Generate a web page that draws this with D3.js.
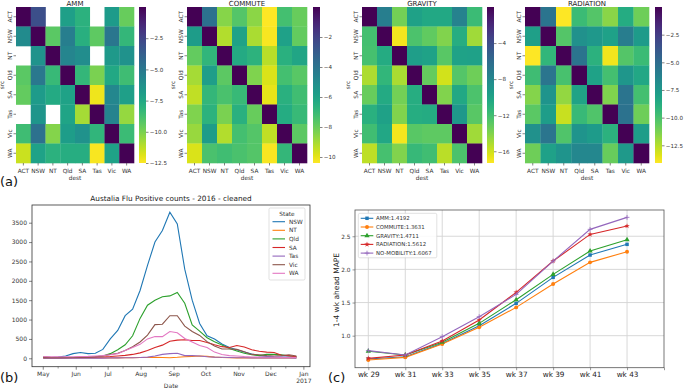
<!DOCTYPE html>
<html><head><meta charset="utf-8">
<script src="https://cdn.jsdelivr.net/npm/d3@7"></script>
<style>body{margin:0;background:#fff} text{font-family:"DejaVu Sans",sans-serif}</style>
</head><body><svg id="chart" width="685" height="390"></svg>
<script>
// ---------------- DATA ----------------
const states = ["ACT","NSW","NT","Qld","SA","Tas","Vic","WA"];

// rows = src, cols = dest (null = missing)
const ammValues = [
  [0, -3.0, null, -7.0, -8.0, null, -6.8, -9.6],
  [-6.0, 0, -9.3, -5.3, -7.9, -9.4, -4.9, -8.3],
  [null, -6.4, 0, -5.7, -6.1, null, -6.7, -6.3],
  [-9.3, -5.0, -8.4, 0, -8.3, -10.0, -7.5, -8.6],
  [-9.5, -6.8, -7.6, -7.2, 0, -12.2, -5.8, -7.0],
  [null, -6.5, null, -7.3, -10.8, 0, -5.6, -10.5],
  [-8.6, -4.6, -10.2, -6.9, -6.3, -8.2, 0, -8.5],
  [-11.5, -7.2, -8.0, -7.8, -7.8, -12.4, -7.2, 0]
];
const commuteValues = [
  [0, -3.9, -8.5, -7.6, -8.6, -10.4, -7.3, -8.0],
  [-5.7, 0, -9.2, -6.0, -9.1, -10.3, -5.9, -7.9],
  [-7.9, -6.8, 0, -6.3, -6.7, -9.3, -6.6, -6.1],
  [-9.0, -5.8, -7.8, 0, -8.4, -9.8, -7.3, -7.7],
  [-9.4, -6.9, -7.4, -7.0, 0, -10.0, -6.6, -7.2],
  [-8.4, -6.7, -8.3, -6.6, -8.0, 0, -6.4, -7.0],
  [-8.8, -5.7, -9.2, -7.3, -7.6, -9.4, 0, -7.8],
  [-9.8, -7.4, -7.2, -7.4, -7.6, -10.3, -6.9, 0]
];
const gravityValues = [
  [0, -7.3, -13.6, -9.9, -10.4, -10.4, -7.6, -11.8],
  [-12.1, 0, -17.0, -12.4, -13.1, -14.0, -10.8, -14.8],
  [-12.2, -10.6, 0, -9.6, -10.0, -12.8, -10.0, -9.8],
  [-15.2, -11.4, -15.1, 0, -13.2, -16.1, -12.7, -13.5],
  [-13.3, -10.5, -13.6, -10.8, 0, -14.0, -10.4, -12.4],
  [-11.0, -9.9, -14.0, -10.7, -10.6, 0, -9.2, -12.8],
  [-12.0, -10.3, -17.0, -12.8, -13.0, -13.0, 0, -14.8],
  [-15.6, -12.2, -14.0, -11.6, -12.0, -15.5, -12.4, 0]
];
const radiationValues = [
  [0, -5.4, -14.1, -9.6, -10.3, -11.6, -8.7, -11.0],
  [-7.9, 0, -10.3, -7.1, -7.5, -8.0, -5.9, -7.7],
  [-14.1, -9.3, 0, -5.4, -9.0, -13.8, -10.3, -9.6],
  [-9.7, -5.5, -10.0, 0, -8.1, -9.9, -7.4, -8.4],
  [-11.5, -7.3, -11.8, -8.2, 0, -11.4, -5.4, -9.9],
  [-10.5, -7.8, -12.9, -9.5, -10.2, 0, -5.3, -11.0],
  [-7.1, -5.5, -10.2, -7.3, -7.7, -9.0, 0, -7.8],
  [-11.0, -8.0, -7.3, -6.5, -6.5, -10.8, -7.6, 0]
];
const ammTicks = [-2.5, -5, -7.5, -10, -12.5];
const commuteTicks = [-2, -4, -6, -8, -10];
const gravityTicks = [-4, -8, -12, -16];
const radiationTicks = [-2.5, -5, -7.5, -10, -12.5];
const ammRange = [-12.5, 0];
const commuteRange = [-10.4, 0];
const gravityRange = [-17.3, 0];
const radiationRange = [-14.1, 0];

// (b) flu counts
const fluDates = ["2016-05-01","2016-05-08","2016-05-15","2016-05-22","2016-05-29",
  "2016-06-05","2016-06-12","2016-06-19","2016-06-26","2016-07-03","2016-07-10","2016-07-17",
  "2016-07-24","2016-07-31","2016-08-07","2016-08-14","2016-08-21","2016-08-28","2016-09-04",
  "2016-09-11","2016-09-18","2016-09-25","2016-10-02","2016-10-09","2016-10-16","2016-10-23",
  "2016-10-30","2016-11-06","2016-11-13","2016-11-20","2016-11-27","2016-12-04","2016-12-11",
  "2016-12-18","2016-12-25"];
const fluStates = ["NSW","NT","Qld","SA","Tas","Vic","WA"];
const nswCounts = [20,20,30,60,120,150,120,130,230,500,720,1100,1270,1750,2400,3000,3300,3770,3470,2300,1500,900,580,500,370,280,220,160,110,70,50,40,35,30,30];
const ntCounts  = [10,10,10,10,10,10,10,10,10,10,10,15,15,20,20,25,20,15,25,40,50,60,50,30,20,15,10,10,10,10,10,10,10,10,10];
const qldCounts = [40,25,20,20,20,25,30,40,60,120,220,350,580,1030,1370,1500,1590,1610,1700,1420,860,700,530,430,340,250,190,130,90,70,100,100,90,60,40];
const saCounts  = [10,10,10,15,15,20,25,30,35,45,60,75,100,140,200,280,340,440,470,480,460,460,410,350,300,280,330,290,220,180,160,150,80,70,40];
const tasCounts = [5,5,5,5,5,5,5,5,5,10,10,15,15,20,30,60,100,120,130,70,70,60,40,30,25,20,15,15,10,10,10,10,10,10,5];
const vicCounts = [15,15,15,15,20,25,30,40,60,100,130,200,300,420,600,870,880,1100,1100,830,690,590,430,320,240,240,230,170,100,90,70,60,70,90,60];
const waCounts  = [45,40,40,40,40,45,50,60,70,90,120,200,280,360,500,560,560,690,660,510,420,330,280,160,100,70,60,45,35,30,30,30,25,25,20];
const fluYTicks = [0,500,1000,1500,2000,2500,3000,3500];

// (c) MAPE
const weekLabels = ["wk 29","wk 31","wk 33","wk 35","wk 37","wk 39","wk 41","wk 43"];
const modelNames = ["AMM:1.4192","COMMUTE:1.3631","GRAVITY:1.4711","RADIATION:1.5612","NO-MOBILITY:1.6067"];
const ammMape       = [0.648,0.683,0.884,1.151,1.488,1.880,2.217,2.378];
const commuteMape   = [0.633,0.673,0.874,1.126,1.427,1.779,2.106,2.267];
const gravityMape   = [0.765,0.708,0.900,1.186,1.543,1.925,2.277,2.448];
const radiationMape = [0.658,0.708,0.920,1.236,1.654,2.126,2.528,2.654];
const nomobMape     = [0.775,0.708,0.985,1.287,1.623,2.126,2.604,2.785];
const mapeYTicks = [1.0,1.5,2.0,2.5];

// ---------------- DRAW ----------------
const svg = d3.select("#chart");
svg.append("rect").attr("width",685).attr("height",390).attr("fill","#fff");
const defs = svg.append("defs");
const txt = "#333";

function heatmap(title, values, range, ticks, fmt, L, R, cbX, idx){
  const top = 7, bottom = 163;
  const g = svg.append("g");
  const x = d3.scaleBand().domain(states).range([L, R]);
  const y = d3.scaleBand().domain(states).range([top, bottom]);
  const color = d3.scaleSequential(d3.interpolateViridis).domain([range[1], range[0]]);
  values.forEach((row, i) => row.forEach((v, j) => {
    if (v === null) return;
    g.append("rect").attr("x", x(states[j])).attr("y", y(states[i]))
      .attr("width", x.bandwidth()+0.3).attr("height", y.bandwidth()+0.3).attr("fill", color(v));
  }));
  states.forEach(s => {
    const cx = x(s) + x.bandwidth()/2;
    g.append("line").attr("x1",cx).attr("x2",cx).attr("y1",bottom).attr("y2",bottom+2.5).attr("stroke",txt).attr("stroke-width",0.6);
    g.append("text").attr("x",cx).attr("y",bottom+9.5).attr("text-anchor","middle").attr("font-size",5.8).attr("fill",txt).text(s);
    const cy = y(s) + y.bandwidth()/2;
    g.append("line").attr("x1",L-2.5).attr("x2",L).attr("y1",cy).attr("y2",cy).attr("stroke",txt).attr("stroke-width",0.6);
    g.append("text").attr("transform",`translate(${L-4.5},${cy}) rotate(-90)`).attr("text-anchor","middle").attr("font-size",5.8).attr("fill",txt).text(s);
  });
  g.append("text").attr("x",(L+R)/2).attr("y",bottom+16.5).attr("text-anchor","middle").attr("font-size",5.8).attr("fill",txt).text("dest");
  g.append("text").attr("transform",`translate(${L-12},${(top+bottom)/2}) rotate(-90)`).attr("text-anchor","middle").attr("font-size",5.8).attr("fill",txt).text("src");
  g.append("text").attr("x",(L+R)/2).attr("y",5.5).attr("text-anchor","middle").attr("font-size",7).attr("fill","#222").text(title);
  const gid = "cb"+idx;
  const grad = defs.append("linearGradient").attr("id",gid).attr("x1",0).attr("x2",0).attr("y1",0).attr("y2",1);
  d3.range(0, 1.0001, 0.05).forEach(t => grad.append("stop").attr("offset", t).attr("stop-color", d3.interpolateViridis(t)));
  g.append("rect").attr("x",cbX).attr("y",top).attr("width",7).attr("height",bottom-top).attr("fill",`url(#${gid})`);
  const cy = d3.scaleLinear().domain(range).range([bottom, top]);
  const ax = g.append("g").attr("transform",`translate(${cbX+7},0)`)
    .call(d3.axisRight(cy).tickValues(ticks).tickFormat(d3.format(fmt)).tickSize(2.5).tickPadding(1.3));
  ax.select(".domain").remove();
  ax.selectAll("line").attr("stroke",txt).attr("stroke-width",0.6);
  ax.selectAll("text").attr("font-size",5.6).attr("fill",txt).attr("font-family","DejaVu Sans");
}
heatmap("AMM", ammValues, ammRange, ammTicks, ".1f", 16, 134, 139, 0);
heatmap("COMMUTE", commuteValues, commuteRange, commuteTicks, "d", 187, 307, 313, 1);
heatmap("GRAVITY", gravityValues, gravityRange, gravityTicks, "d", 362, 482, 487, 2);
heatmap("RADIATION", radiationValues, radiationRange, radiationTicks, ".1f", 525, 649, 655, 3);

[["(a)",0,186],["(b)",0,382],["(c)",328,382]].forEach(d =>
  svg.append("text").attr("x",d[1]).attr("y",d[2]).attr("font-size",13).attr("fill","#111").text(d[0]));

// ---------------- (b) ----------------
{
  const L = 32, R = 310, T = 205, B = 366.7;
  const parse = d3.timeParse("%Y-%m-%d");
  const dates = fluDates.map(parse);
  const x = d3.scaleTime().domain([new Date(2016,3,20,10), new Date(2017,0,6,18)]).range([L, R]);
  const y = d3.scaleLinear().domain([-217, 3957]).range([B, T]);
  const g = svg.append("g");
  const series = [nswCounts, ntCounts, qldCounts, saCounts, tasCounts, vicCounts, waCounts];
  const colors = ["#1f77b4","#ff7f0e","#2ca02c","#d62728","#9467bd","#8c564b","#e377c2"];
  const line = d3.line().x((d,i) => x(dates[i])).y(d => y(d));
  series.forEach((s, k) => g.append("path").datum(s).attr("d", line).attr("fill","none")
    .attr("stroke", colors[k]).attr("stroke-width", 1.1));
  g.append("rect").attr("x",L).attr("y",T).attr("width",R-L).attr("height",B-T).attr("fill","none").attr("stroke","#333").attr("stroke-width",0.8);
  const ya = g.append("g").attr("transform",`translate(${L},0)`).call(d3.axisLeft(y).tickValues(fluYTicks).tickFormat(d3.format("d")).tickSize(3).tickPadding(2));
  ya.select(".domain").remove();
  ya.selectAll("line").attr("stroke","#333").attr("stroke-width",0.6);
  ya.selectAll("text").attr("font-size",6).attr("fill",txt).attr("font-family","DejaVu Sans");
  const months = d3.timeMonth.range(new Date(2016,4,1), new Date(2017,0,2));
  months.forEach(m => {
    const px = x(m);
    g.append("line").attr("x1",px).attr("x2",px).attr("y1",B).attr("y2",B+3).attr("stroke","#333").attr("stroke-width",0.6);
    g.append("text").attr("x",px).attr("y",B+9).attr("text-anchor","middle").attr("font-size",6).attr("fill",txt)
      .text(d3.timeFormat("%b")(m));
    if (m.getFullYear() === 2017) g.append("text").attr("x",px).attr("y",B+16).attr("text-anchor","middle").attr("font-size",6).attr("fill",txt).text("2017");
  });
  d3.timeMonth.range(new Date(2016,4,1), new Date(2016,11,2)).forEach(m => {
    const px = x(new Date(m.getFullYear(), m.getMonth(), 15));
    g.append("line").attr("x1",px).attr("x2",px).attr("y1",B).attr("y2",B+1.8).attr("stroke","#333").attr("stroke-width",0.5);
  });
  g.append("text").attr("x",(L+R)/2).attr("y",388).attr("text-anchor","middle").attr("font-size",6).attr("fill",txt).text("Date");
  g.append("text").attr("x",(L+R)/2).attr("y",201).attr("text-anchor","middle").attr("font-size",7.3).attr("fill","#222").text("Austalia Flu Positive counts - 2016 - cleaned");
  const lg = g.append("g");
  lg.append("rect").attr("x",269).attr("y",208).attr("width",36).attr("height",72).attr("rx",1.5).attr("fill","#fff").attr("fill-opacity",0.8).attr("stroke","#ccc").attr("stroke-width",0.6);
  lg.append("text").attr("x",287).attr("y",215.5).attr("text-anchor","middle").attr("font-size",5.8).attr("fill",txt).text("State");
  fluStates.forEach((s, k) => {
    const yy = 221.7 + k*8.6;
    lg.append("line").attr("x1",272.5).attr("x2",285).attr("y1",yy).attr("y2",yy).attr("stroke",colors[k]).attr("stroke-width",1.1);
    lg.append("text").attr("x",289).attr("y",yy+2).attr("font-size",5.8).attr("fill",txt).text(s);
  });
}

// ---------------- (c) ----------------
{
  const L = 355, R = 664, T = 210, B = 367.7;
  const x = d3.scaleLinear().domain([-0.36, 8]).range([L, R]);
  const y = d3.scaleLinear().domain([0.517, 2.896]).range([B, T]);
  const g = svg.append("g");
  d3.range(0, 8).forEach(i => g.append("line").attr("x1",x(i)).attr("x2",x(i)).attr("y1",T).attr("y2",B).attr("stroke","#d4d4d4").attr("stroke-width",0.9));
  mapeYTicks.forEach(v => g.append("line").attr("x1",L).attr("x2",R).attr("y1",y(v)).attr("y2",y(v)).attr("stroke","#d4d4d4").attr("stroke-width",0.9));
  const series = [ammMape, commuteMape, gravityMape, radiationMape, nomobMape];
  const colors = ["#1f77b4","#ff7f0e","#2ca02c","#d62728","#9467bd"];
  const symbols = [d3.symbolSquare, d3.symbolCircle, d3.symbolTriangle, d3.symbolStar, null];
  function marker(sel, k, px, py){
    if (symbols[k]) {
      sel.append("path").attr("transform",`translate(${px},${py})`).attr("d", d3.symbol(symbols[k], k===3?9:12)()).attr("fill",colors[k]);
    } else {
      sel.append("path").attr("transform",`translate(${px},${py})`).attr("d","M-2.4,0H2.4M0,-2.4V2.4").attr("stroke",colors[k]).attr("stroke-width",0.8);
    }
  }
  const line = d3.line().x((d,i) => x(i)).y(d => y(d));
  series.forEach((s, k) => {
    g.append("path").datum(s).attr("d", line).attr("fill","none").attr("stroke",colors[k]).attr("stroke-width",1.1);
    s.forEach((v, i) => marker(g, k, x(i), y(v)));
  });
  g.append("rect").attr("x",L).attr("y",T).attr("width",R-L).attr("height",B-T).attr("fill","none").attr("stroke","#555").attr("stroke-width",0.8);
  const ya = g.append("g").attr("transform",`translate(${L},0)`).call(d3.axisLeft(y).tickValues(mapeYTicks).tickFormat(d3.format(".1f")).tickSize(2.5).tickPadding(2));
  ya.select(".domain").remove();
  ya.selectAll("line").attr("stroke","#555").attr("stroke-width",0.6);
  ya.selectAll("text").attr("font-size",5.8).attr("fill",txt).attr("font-family","DejaVu Sans");
  const xa = g.append("g").attr("transform",`translate(0,${B})`).call(d3.axisBottom(x).tickValues(d3.range(0,9)).tickFormat(i => weekLabels[i] || "").tickSize(2.5).tickPadding(2));
  xa.select(".domain").remove();
  xa.selectAll("line").attr("stroke","#555").attr("stroke-width",0.6);
  xa.selectAll("text").attr("font-size",7.3).attr("fill","#222").attr("font-family","DejaVu Sans");
  g.append("text").attr("transform",`translate(339,290) rotate(-90)`).attr("text-anchor","middle").attr("font-size",7.5).attr("fill","#222").text("1-4 wk ahead MAPE");
  const lg = g.append("g");
  lg.append("rect").attr("x",358.3).attr("y",213.3).attr("width",78.5).attr("height",44.5).attr("rx",1.5).attr("fill","#fff").attr("fill-opacity",0.85).attr("stroke","#ccc").attr("stroke-width",0.6);
  modelNames.forEach((n, k) => {
    const yy = 218.3 + k*8.7;
    lg.append("line").attr("x1",360.7).attr("x2",373.3).attr("y1",yy).attr("y2",yy).attr("stroke",colors[k]).attr("stroke-width",1.1);
    marker(lg, k, 367, yy);
    lg.append("text").attr("x",376).attr("y",yy+2).attr("font-size",5.4).attr("fill",txt).text(n);
  });
}
</script></body></html>
